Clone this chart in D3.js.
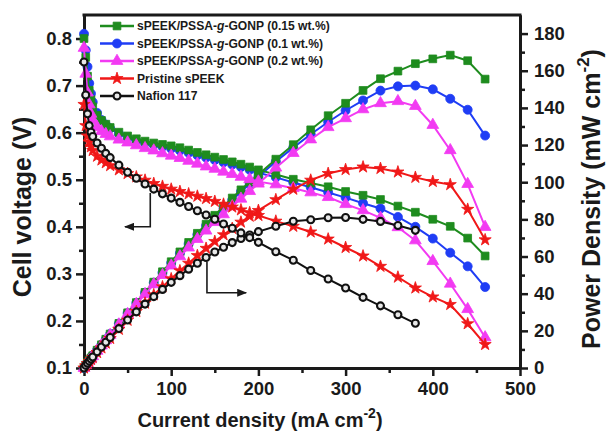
<!DOCTYPE html>
<html>
<head>
<meta charset="utf-8">
<script src="https://cdn.jsdelivr.net/npm/d3@7"></script>
<style>
  html, body { margin: 0; padding: 0; background: #fff; }
  svg { display: block; font-family: "Liberation Sans", Arial, sans-serif; }
</style>
</head>
<body>
<svg id="chart" width="606" height="438"></svg>
<script>
// Current density (mA cm^-2) at which each point was recorded
const current = [0, 2, 4, 6, 8, 10, 15, 20, 25, 30, 40, 50, 60, 70, 80, 90, 100, 110, 120, 130,
  140, 150, 160, 170, 180, 190, 200, 220, 240, 260, 280, 300, 320, 340, 360, 380, 400, 420, 440, 460];
const currentNafion = [0, 2, 4, 6, 8, 10, 15, 20, 25, 30, 40, 50, 60, 70, 80, 90, 100, 110, 120, 130,
  140, 150, 160, 170, 180, 190, 200, 220, 240, 260, 280, 300, 320, 340, 360, 380];

// Cell voltage (V)
const voltage015 = [0.80, 0.76, 0.72, 0.69, 0.67, 0.655, 0.637, 0.626, 0.618, 0.611, 0.601, 0.593, 0.587, 0.582,
  0.578, 0.575, 0.572, 0.568, 0.563, 0.558, 0.553, 0.548, 0.543, 0.538, 0.533, 0.527, 0.521, 0.511, 0.501,
  0.493, 0.485, 0.475, 0.467, 0.458, 0.444, 0.431, 0.416, 0.401, 0.376, 0.338];
const voltage01 = [0.81, 0.775, 0.74, 0.705, 0.683, 0.665, 0.642, 0.627, 0.617, 0.609, 0.598, 0.589, 0.583, 0.578,
  0.574, 0.570, 0.566, 0.562, 0.557, 0.552, 0.547, 0.542, 0.537, 0.532, 0.527, 0.521, 0.515, 0.505, 0.494,
  0.484, 0.473, 0.462, 0.450, 0.439, 0.421, 0.400, 0.375, 0.345, 0.316, 0.272];
const voltage02 = [0.78, 0.725, 0.685, 0.66, 0.64, 0.627, 0.612, 0.603, 0.597, 0.592, 0.585, 0.579, 0.573, 0.567,
  0.562, 0.556, 0.551, 0.546, 0.540, 0.534, 0.528, 0.523, 0.517, 0.512, 0.506, 0.501, 0.496, 0.490, 0.482,
  0.473, 0.463, 0.448, 0.435, 0.419, 0.399, 0.371, 0.327, 0.279, 0.225, 0.165];
const voltagePristine = [0.66, 0.615, 0.593, 0.58, 0.57, 0.562, 0.55, 0.542, 0.536, 0.53, 0.521, 0.513, 0.506, 0.499,
  0.492, 0.486, 0.48, 0.475, 0.47, 0.465, 0.46, 0.454, 0.448, 0.442, 0.436, 0.43, 0.424, 0.412, 0.401,
  0.389, 0.374, 0.356, 0.338, 0.316, 0.293, 0.270, 0.251, 0.235, 0.194, 0.15];
const voltageNafion = [0.75, 0.68, 0.64, 0.615, 0.601, 0.592, 0.578, 0.567, 0.556, 0.547, 0.531, 0.516, 0.503, 0.491,
  0.48, 0.47, 0.461, 0.452, 0.443, 0.434, 0.425, 0.416, 0.406, 0.397, 0.387, 0.377, 0.367, 0.347, 0.329,
  0.307, 0.289, 0.27, 0.25, 0.232, 0.213, 0.195];

// Power density (mW cm^-2)
const power015 = [0, 1.5, 2.9, 4.1, 5.4, 6.6, 9.6, 12.5, 15.5, 18.3, 24.0, 29.7, 35.2, 40.7, 46.2, 51.8, 57.2,
  62.5, 67.6, 72.5, 77.4, 82.2, 86.9, 91.5, 95.9, 100.1, 104.2, 112.4, 120.2, 128.2, 135.8, 142.5, 149.4,
  155.7, 159.8, 163.8, 166.4, 168.4, 165.4, 155.5];
const power01 = [0, 1.6, 3.0, 4.2, 5.5, 6.7, 9.6, 12.5, 15.4, 18.3, 23.9, 29.5, 35.0, 40.5, 45.9, 51.3, 56.6,
  61.8, 66.8, 71.8, 76.6, 81.3, 85.9, 90.4, 94.9, 99.0, 103.0, 111.1, 118.6, 125.8, 132.4, 138.6, 144.0,
  149.3, 151.6, 152.0, 150.0, 144.9, 139.0, 125.1];
const power02 = [0, 1.5, 2.7, 4.0, 5.1, 6.3, 9.2, 12.1, 14.9, 17.8, 23.4, 29.0, 34.4, 39.7, 45.0, 50.0, 55.1,
  60.1, 64.8, 69.4, 73.9, 78.5, 82.7, 87.0, 91.1, 95.2, 99.2, 107.8, 115.7, 123.0, 129.6, 134.4, 139.2,
  142.5, 143.6, 141.0, 130.8, 117.2, 99.0, 75.9];
const powerPristine = [0, 1.2, 2.4, 3.5, 4.6, 5.6, 8.3, 10.8, 13.4, 15.9, 20.8, 25.7, 30.4, 34.9, 39.4, 43.7, 48.0,
  52.3, 56.4, 60.5, 64.4, 68.1, 71.7, 75.1, 78.5, 81.7, 84.8, 90.6, 96.2, 101.1, 104.7, 106.8, 108.2,
  107.4, 105.5, 102.6, 100.4, 98.7, 85.4, 69.0];
const powerNafion = [0, 1.4, 2.6, 3.7, 4.8, 5.9, 8.7, 11.3, 13.9, 16.4, 21.2, 25.8, 30.2, 34.4, 38.4, 42.3, 46.1,
  49.7, 53.2, 56.4, 59.5, 62.4, 65.0, 67.5, 69.7, 71.6, 73.4, 76.3, 79.0, 79.8, 80.9, 81.0, 80.0, 78.9,
  76.7, 74.1];

// Axis ticks
const currentTicks = [0, 100, 200, 300, 400, 500];
const currentMinorTicks = [50, 150, 250, 350, 450];
const voltageTicks = [0.1, 0.2, 0.3, 0.4, 0.5, 0.6, 0.7, 0.8];
const voltageMinorTicks = [0.15, 0.25, 0.35, 0.45, 0.55, 0.65, 0.75];
const powerTicks = [0, 20, 40, 60, 80, 100, 120, 140, 160, 180];
const powerMinorTicks = [10, 30, 50, 70, 90, 110, 130, 150, 170];

// Membranes, in legend order
const series = [
  { name: ["sPEEK/PSSA-", "g", "-GONP (0.15 wt.%)"], color: "#1e8c1e", symbol: "square",
    current: current, voltage: voltage015, power: power015 },
  { name: ["sPEEK/PSSA-", "g", "-GONP (0.1 wt.%)"], color: "#1f3df5", symbol: "circle",
    current: current, voltage: voltage01, power: power01 },
  { name: ["sPEEK/PSSA-", "g", "-GONP (0.2 wt.%)"], color: "#f23af2", symbol: "triangle",
    current: current, voltage: voltage02, power: power02 },
  { name: ["Pristine sPEEK"], color: "#f01818", symbol: "star",
    current: current, voltage: voltagePristine, power: powerPristine },
  { name: ["Nafion 117"], color: "#111111", symbol: "ring",
    current: currentNafion, voltage: voltageNafion, power: powerNafion }
];

// Arrows pointing each family of curves to its axis (data units)
const arrowToVoltage = { current: 76, from: 0.472, to: 0.40, tip: 47 };
const arrowToPower = { current: 141, from: 57, to: 40.5, tip: 186 };

const svg = d3.select("#chart");
const x = d3.scaleLinear().domain([0, 500]).range([84, 520]);
const yV = d3.scaleLinear().domain([0.1, 0.85]).range([368, 15]);
const yP = d3.scaleLinear().domain([0, 190]).range([368, 15]);

const ink = "#1a1a1a";

function styleAxis(g, fontSize) {
  g.select(".domain").attr("stroke", ink).attr("stroke-width", 3);
  g.selectAll(".tick line").attr("stroke", ink).attr("stroke-width", 2.5);
  g.selectAll(".tick text").attr("fill", ink).attr("font-size", fontSize).attr("font-weight", "bold");
}

// Bottom axis
svg.append("g").attr("transform", "translate(0,368)")
  .call(d3.axisBottom(x).tickValues(currentMinorTicks).tickSize(5).tickSizeOuter(0).tickFormat(""))
  .call(g => styleAxis(g, 18.5));
svg.append("g").attr("transform", "translate(0,368)")
  .call(d3.axisBottom(x).tickValues(currentTicks).tickSize(8).tickSizeOuter(0).tickPadding(6)
    .tickFormat(d3.format("d")))
  .call(g => styleAxis(g, 18.5));

// Left axis
svg.append("g").attr("transform", "translate(84,0)")
  .call(d3.axisLeft(yV).tickValues(voltageMinorTicks).tickSize(5).tickSizeOuter(0).tickFormat(""))
  .call(g => styleAxis(g, 18.5));
svg.append("g").attr("transform", "translate(84,0)")
  .call(d3.axisLeft(yV).tickValues(voltageTicks).tickSize(8).tickSizeOuter(0).tickPadding(4)
    .tickFormat(d3.format(".1f")))
  .call(g => styleAxis(g, 18.5));

// Right axis
svg.append("g").attr("transform", "translate(520,0)")
  .call(d3.axisRight(yP).tickValues(powerMinorTicks).tickSize(5).tickSizeOuter(0).tickFormat(""))
  .call(g => styleAxis(g, 18.5));
svg.append("g").attr("transform", "translate(520,0)")
  .call(d3.axisRight(yP).tickValues(powerTicks).tickSize(8).tickSizeOuter(0).tickPadding(6)
    .tickFormat(d3.format("d")))
  .call(g => styleAxis(g, 18.5));

// Top frame line
svg.append("line")
  .attr("x1", x(0) - 1.5).attr("x2", x(500) + 1.5)
  .attr("y1", yV(0.85)).attr("y2", yV(0.85))
  .attr("stroke", ink).attr("stroke-width", 3);

// Axis titles
svg.append("text")
  .attr("x", 260).attr("y", 427).attr("text-anchor", "middle")
  .attr("font-size", 20).attr("font-weight", "bold").attr("fill", ink)
  .call(t => {
    t.append("tspan").text("Current density (mA cm");
    t.append("tspan").attr("font-size", 14).attr("dy", -9).text("-2");
    t.append("tspan").attr("dy", 9).text(")");
  });

svg.append("text")
  .attr("transform", "translate(31,207) rotate(-90)").attr("text-anchor", "middle")
  .attr("font-size", 25).attr("font-weight", "bold").attr("fill", ink)
  .text("Cell voltage (V)");

svg.append("text")
  .attr("transform", "translate(600,199) rotate(-90)").attr("text-anchor", "middle")
  .attr("font-size", 25).attr("font-weight", "bold").attr("fill", ink)
  .call(t => {
    t.append("tspan").text("Power Density (mW cm");
    t.append("tspan").attr("font-size", 17).attr("dy", -11).text("-2");
    t.append("tspan").attr("dy", 11).text(")");
  });

// Marker drawing
const symbolTypes = { square: d3.symbolSquare, circle: d3.symbolCircle, triangle: d3.symbolTriangle, star: d3.symbolStar };
const symbolSizes = { square: 60, circle: 64, triangle: 60, star: 46 };

function drawMarkers(g, s, pts) {
  if (s.symbol === "ring") {
    g.selectAll("circle").data(pts).join("circle")
      .attr("cx", d => d[0]).attr("cy", d => d[1]).attr("r", 3.5)
      .attr("fill", "#e8e8e8").attr("stroke", s.color).attr("stroke-width", 2.1);
  } else {
    g.selectAll("path").data(pts).join("path")
      .attr("transform", d => `translate(${d[0]},${d[1]})`)
      .attr("d", d3.symbol(symbolTypes[s.symbol], symbolSizes[s.symbol]))
      .attr("fill", s.color).attr("stroke", s.color).attr("stroke-width", 0.8);
  }
}

const line = d3.line();
const plot = svg.append("g");

// Drawing order keeps the 0.1 wt.% curves beneath the 0.15 wt.% curves
const drawOrder = [1, 0, 2, 3, 4];
drawOrder.forEach(k => {
  const s = series[k];
  const g = plot.append("g");
  const polPts = s.current.map((c, i) => [x(c), yV(s.voltage[i])]);
  const powPts = s.current.map((c, i) => [x(c), yP(s.power[i])]);
  [powPts, polPts].forEach(pts => {
    g.append("path").attr("d", line(pts)).attr("fill", "none")
      .attr("stroke", s.color).attr("stroke-width", 2);
    drawMarkers(g.append("g"), s, pts);
  });
});

// Direction arrows
const defs = svg.append("defs");
defs.append("marker").attr("id", "head").attr("viewBox", "0 0 10 8")
  .attr("refX", 9).attr("refY", 4).attr("markerWidth", 10).attr("markerHeight", 8)
  .attr("markerUnits", "userSpaceOnUse").attr("orient", "auto")
  .append("path").attr("d", "M0,0 L10,4 L0,8 Z").attr("fill", ink);

svg.append("path")
  .attr("d", line([[x(arrowToVoltage.current), yV(arrowToVoltage.from)],
                   [x(arrowToVoltage.current), yV(arrowToVoltage.to)],
                   [x(arrowToVoltage.tip), yV(arrowToVoltage.to)]]))
  .attr("fill", "none").attr("stroke", ink).attr("stroke-width", 1.6).attr("marker-end", "url(#head)");

svg.append("path")
  .attr("d", line([[x(arrowToPower.current), yP(arrowToPower.from)],
                   [x(arrowToPower.current), yP(arrowToPower.to)],
                   [x(arrowToPower.tip), yP(arrowToPower.to)]]))
  .attr("fill", "none").attr("stroke", ink).attr("stroke-width", 1.6).attr("marker-end", "url(#head)");

// Legend
const legend = svg.append("g");
series.forEach((s, i) => {
  const cy = 26 + i * 17.5;
  const row = legend.append("g");
  row.append("line").attr("x1", 100).attr("x2", 134).attr("y1", cy).attr("y2", cy)
    .attr("stroke", s.color).attr("stroke-width", 2.5);
  drawMarkers(row.append("g"), s, [[117, cy]]);
  const t = row.append("text").attr("x", 137).attr("y", cy + 4.3)
    .attr("font-size", 12.1).attr("font-weight", "bold").attr("fill", ink);
  s.name.forEach((part, j) => {
    const sp = t.append("tspan").text(part);
    if (s.name.length > 1 && j === 1) sp.attr("font-style", "italic");
  });
});
</script>
</body>
</html>
